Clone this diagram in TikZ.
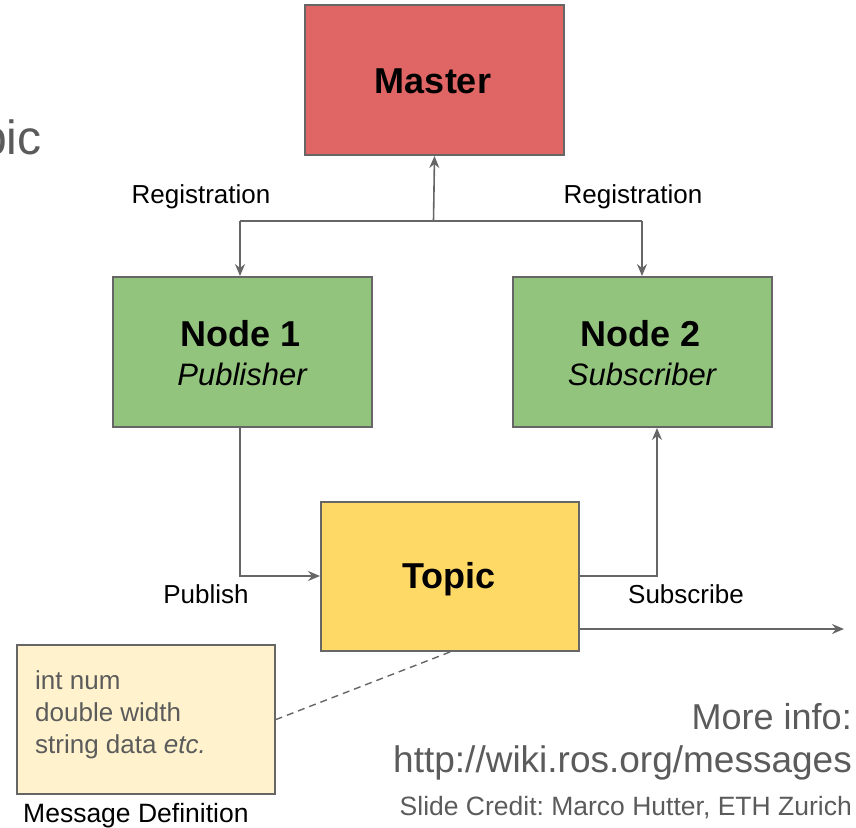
\documentclass[tikz,border=0pt]{standalone}
\usepackage{fontspec}
\setmainfont{Liberation Sans}
\usetikzlibrary{arrows.meta}
\frenchspacing

\definecolor{edge}{HTML}{666666}
\definecolor{ink}{HTML}{5B5B5B}
\definecolor{masterred}{HTML}{E06666}
\definecolor{nodegreen}{HTML}{93C47D}
\definecolor{topicyellow}{HTML}{FFD966}
\definecolor{msgcream}{HTML}{FFF2CC}

\tikzset{
  block/.style={draw=edge, line width=2pt, inner sep=0pt, anchor=north west},
  conn/.style={draw=edge, line width=1.6pt},
  tip/.style={-{Stealth[length=12pt,width=10pt,inset=4pt]}},
  title/.style={font=\fontsize{36}{40}\selectfont\bfseries, anchor=base, inner sep=0pt},
  role/.style={font=\fontsize{31}{36}\selectfont\itshape, anchor=base, inner sep=0pt},
  lbl/.style={font=\fontsize{26}{30}\selectfont, anchor=base, inner sep=0pt},
  grey/.style={text=ink, inner sep=0pt}
}

\begin{document}
\begin{tikzpicture}[x=1pt,y=-1pt]
\useasboundingbox (0,0) rectangle (856,827);

% heading fragment at the left edge
\node[grey, font=\fontsize{48}{52}\selectfont, anchor=base west] (head) at (-20,154) {pic};

% boxes
\node[block, fill=masterred, minimum width=259pt, minimum height=150pt] (master) at (304,4) {};
\node[block, fill=nodegreen, minimum width=259pt, minimum height=150pt] (n1) at (112,276) {};
\node[block, fill=nodegreen, minimum width=259pt, minimum height=150pt] (n2) at (512,276) {};
\node[block, fill=topicyellow, minimum width=258pt, minimum height=149pt] (topic) at (320,501) {};
\node[block, fill=msgcream, minimum width=258pt, minimum height=149pt] (msg) at (16,644) {};

% box texts
\node[title] (mastert) at (433,93) {Master};
\node[title] (n1t) at (241,346) {Node 1};
\node[role] (n1r) at (242,385) {Publisher};
\node[title] (n2t) at (641,346) {Node 2};
\node[role] (n2r) at (642,385) {Subscriber};
\node[title] (topict) at (449,588) {Topic};

\node[grey, lbl, anchor=base west] (m1) at (35,689) {int num};
\node[grey, lbl, anchor=base west] (m2) at (35,721) {double width};
\node[grey, lbl, anchor=base west] (m3) at (35,753) {string data \textit{etc.}};

% junction points
\coordinate (jc) at (433.5,221);
\coordinate (jl) at (240,221);
\coordinate (jr) at (642,221);
\coordinate (pb) at (240,576);
\coordinate (sb) at (657,576);
\coordinate (outend) at (844,629);

% registration connectors
\draw[conn, tip] (jc) -- (master.south);
\draw[conn] (jl) -- (jr);
\draw[conn, tip] (jl) -- (jl |- n1.north);
\draw[conn, tip] (jr) -- (jr |- n2.north);

% publish / subscribe connectors
\draw[conn, tip] (pb |- n1.south) -- (pb) -- (topic.west |- pb);
\draw[conn, tip] (topic.east |- sb) -- (sb) -- (sb |- n2.south);
\draw[conn, tip] (topic.east |- outend) -- (outend);

% message definition link
\draw[edge, line width=1.4pt, dash pattern=on 7pt off 5pt] (topic.south) -- (msg.east);

% connector labels
\node[lbl] (reg1) at (201,203) {Registration};
\node[lbl] (reg2) at (633,203) {Registration};
\node[lbl] (pub) at (206,603) {Publish};
\node[lbl] (sub) at (686,603) {Subscribe};
\node[font=\fontsize{26.5}{30}\selectfont, anchor=base west, inner sep=0pt] (msgl) at (23,822) {Message Definition};

% footer texts
\node[grey, font=\fontsize{36}{40}\selectfont, anchor=base east] (more) at (852,729) {More info:};
\node[grey, font=\fontsize{37}{40}\selectfont, anchor=base east] (url) at (852,772) {http://wiki.ros.org/messages};
\node[grey, font=\fontsize{26.5}{30}\selectfont, anchor=base east] (credit) at (852,815) {Slide Credit: Marco Hutter, ETH Zurich};
\end{tikzpicture}
\end{document}
